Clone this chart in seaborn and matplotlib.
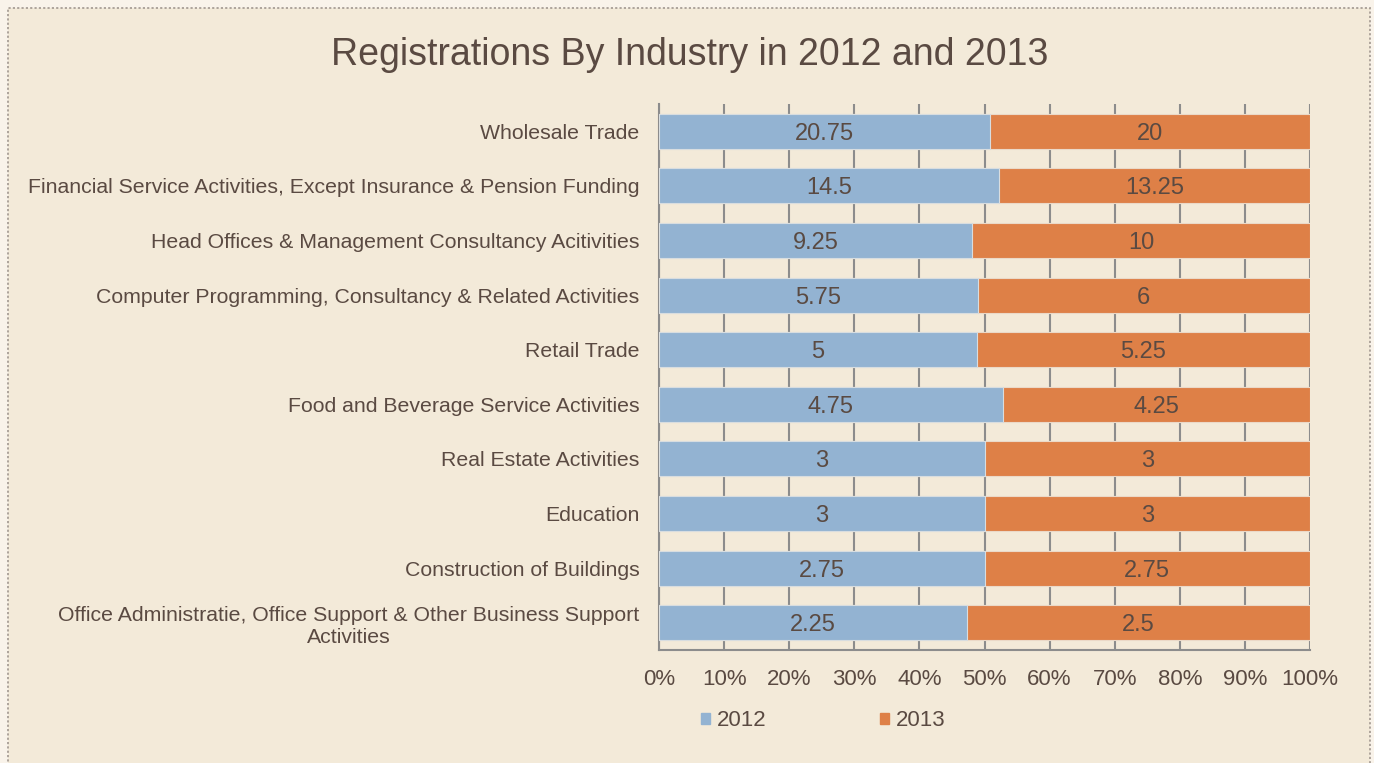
import matplotlib
matplotlib.use("Agg")
import matplotlib.pyplot as plt
import matplotlib.patches as mpatches
import numpy as np
import pandas as pd
import seaborn as sns

# Data
industries = [
    "Wholesale Trade",
    "Financial Service Activities, Except Insurance & Pension Funding",
    "Head Offices & Management Consultancy Acitivities",
    "Computer Programming, Consultancy & Related Activities",
    "Retail Trade",
    "Food and Beverage Service Activities",
    "Real Estate Activities",
    "Education",
    "Construction of Buildings",
    "Office Administratie, Office Support & Other Business Support\nActivities",
]
values_2012 = [20.75, 14.5, 9.25, 5.75, 5, 4.75, 3, 3, 2.75, 2.25]
values_2013 = [20, 13.25, 10, 6, 5.25, 4.25, 3, 3, 2.75, 2.5]
x_ticks = [0, 10, 20, 30, 40, 50, 60, 70, 80, 90, 100]

BG = "#F3EAD9"
OUTER = "#F9F3EA"
TEXT = "#5A4A42"
BLUE = "#93B3D2"
ORANGE = "#DE8047"
GRID = "#8C8C8C"

sns.set_theme(style="white")
plt.rcParams["font.family"] = ["Liberation Sans", "DejaVu Sans"]

df = pd.DataFrame({"industry": industries, "y2012": values_2012, "y2013": values_2013})
total = df["y2012"] + df["y2013"]
df["p2012"] = df["y2012"] / total * 100
df["p2013"] = df["y2013"] / total * 100
df["cum"] = df["p2012"] + df["p2013"]

fig = plt.figure(figsize=(13.74, 7.63), dpi=100, facecolor=OUTER)
# dotted outer frame
fig.patches.append(mpatches.Rectangle(
    (8 / 1374, -0.05), (1370 - 8) / 1374, 1 - 8 / 763 + 0.05,
    transform=fig.transFigure, facecolor=BG, edgecolor="#A89E96",
    linestyle=(0, (1.2, 1.2)), linewidth=1.3, zorder=-10))

ax = fig.add_axes([659 / 1374, 1 - 650 / 763, (1310 - 659) / 1374, (650 - 104) / 763])
ax.set_facecolor(BG)

# 100% stacked: full-length 2013 bar underneath, 2012 share on top
sns.barplot(data=df, x="cum", y="industry", orient="h", color=ORANGE,
            width=0.64, edgecolor="#EBD9C8", linewidth=0.8, saturation=1, ax=ax, zorder=3)
sns.barplot(data=df, x="p2012", y="industry", orient="h", color=BLUE,
            width=0.64, edgecolor="#D8DDE0", linewidth=0.8, saturation=1, ax=ax, zorder=4)

for i, row in df.iterrows():
    ax.text(row["p2012"] / 2, i, f"{row['y2012']:g}", ha="center", va="center_baseline",
            fontsize=17, color=TEXT, zorder=5)
    ax.text(row["p2012"] + row["p2013"] / 2, i, f"{row['y2013']:g}", ha="center",
            va="center_baseline", fontsize=17, color=TEXT, zorder=5)

ax.set_xlim(0, 100)
ax.set_ylim(len(industries) - 0.5, -0.5)
ax.set_xticks(x_ticks)
ax.set_xticklabels([f"{t}%" for t in x_ticks])
ax.xaxis.grid(True, color=GRID, linewidth=1.5, zorder=1)
ax.set_axisbelow(True)
ax.set_xlabel("")
ax.set_ylabel("")
ax.tick_params(axis="x", length=0, pad=14, labelsize=16, labelcolor=TEXT)
ax.tick_params(axis="y", length=0, pad=14, labelsize=15.3, labelcolor=TEXT)
for lbl in ax.get_yticklabels():
    lbl.set_multialignment("center")

for side in ["top", "right"]:
    ax.spines[side].set_visible(False)
for side in ["left", "bottom"]:
    ax.spines[side].set_color(GRID)
    ax.spines[side].set_linewidth(1.5)

fig.text(690 / 1374, 1 - 51 / 763, "Registrations By Industry in 2012 and 2013",
         ha="center", va="center_baseline", fontsize=27, color=TEXT)

handles = [mpatches.Patch(color=BLUE, label="2012"), mpatches.Patch(color=ORANGE, label="2013")]
fig.legend(handles=handles, loc="center", bbox_to_anchor=(823 / 1374, 1 - 721 / 763),
           ncol=2, frameon=False, fontsize=16, labelcolor=TEXT, handlelength=0.42,
           handleheight=0.42, handletextpad=0.3, columnspacing=5.1)

fig.savefig("out.png", dpi=100, facecolor=OUTER)
